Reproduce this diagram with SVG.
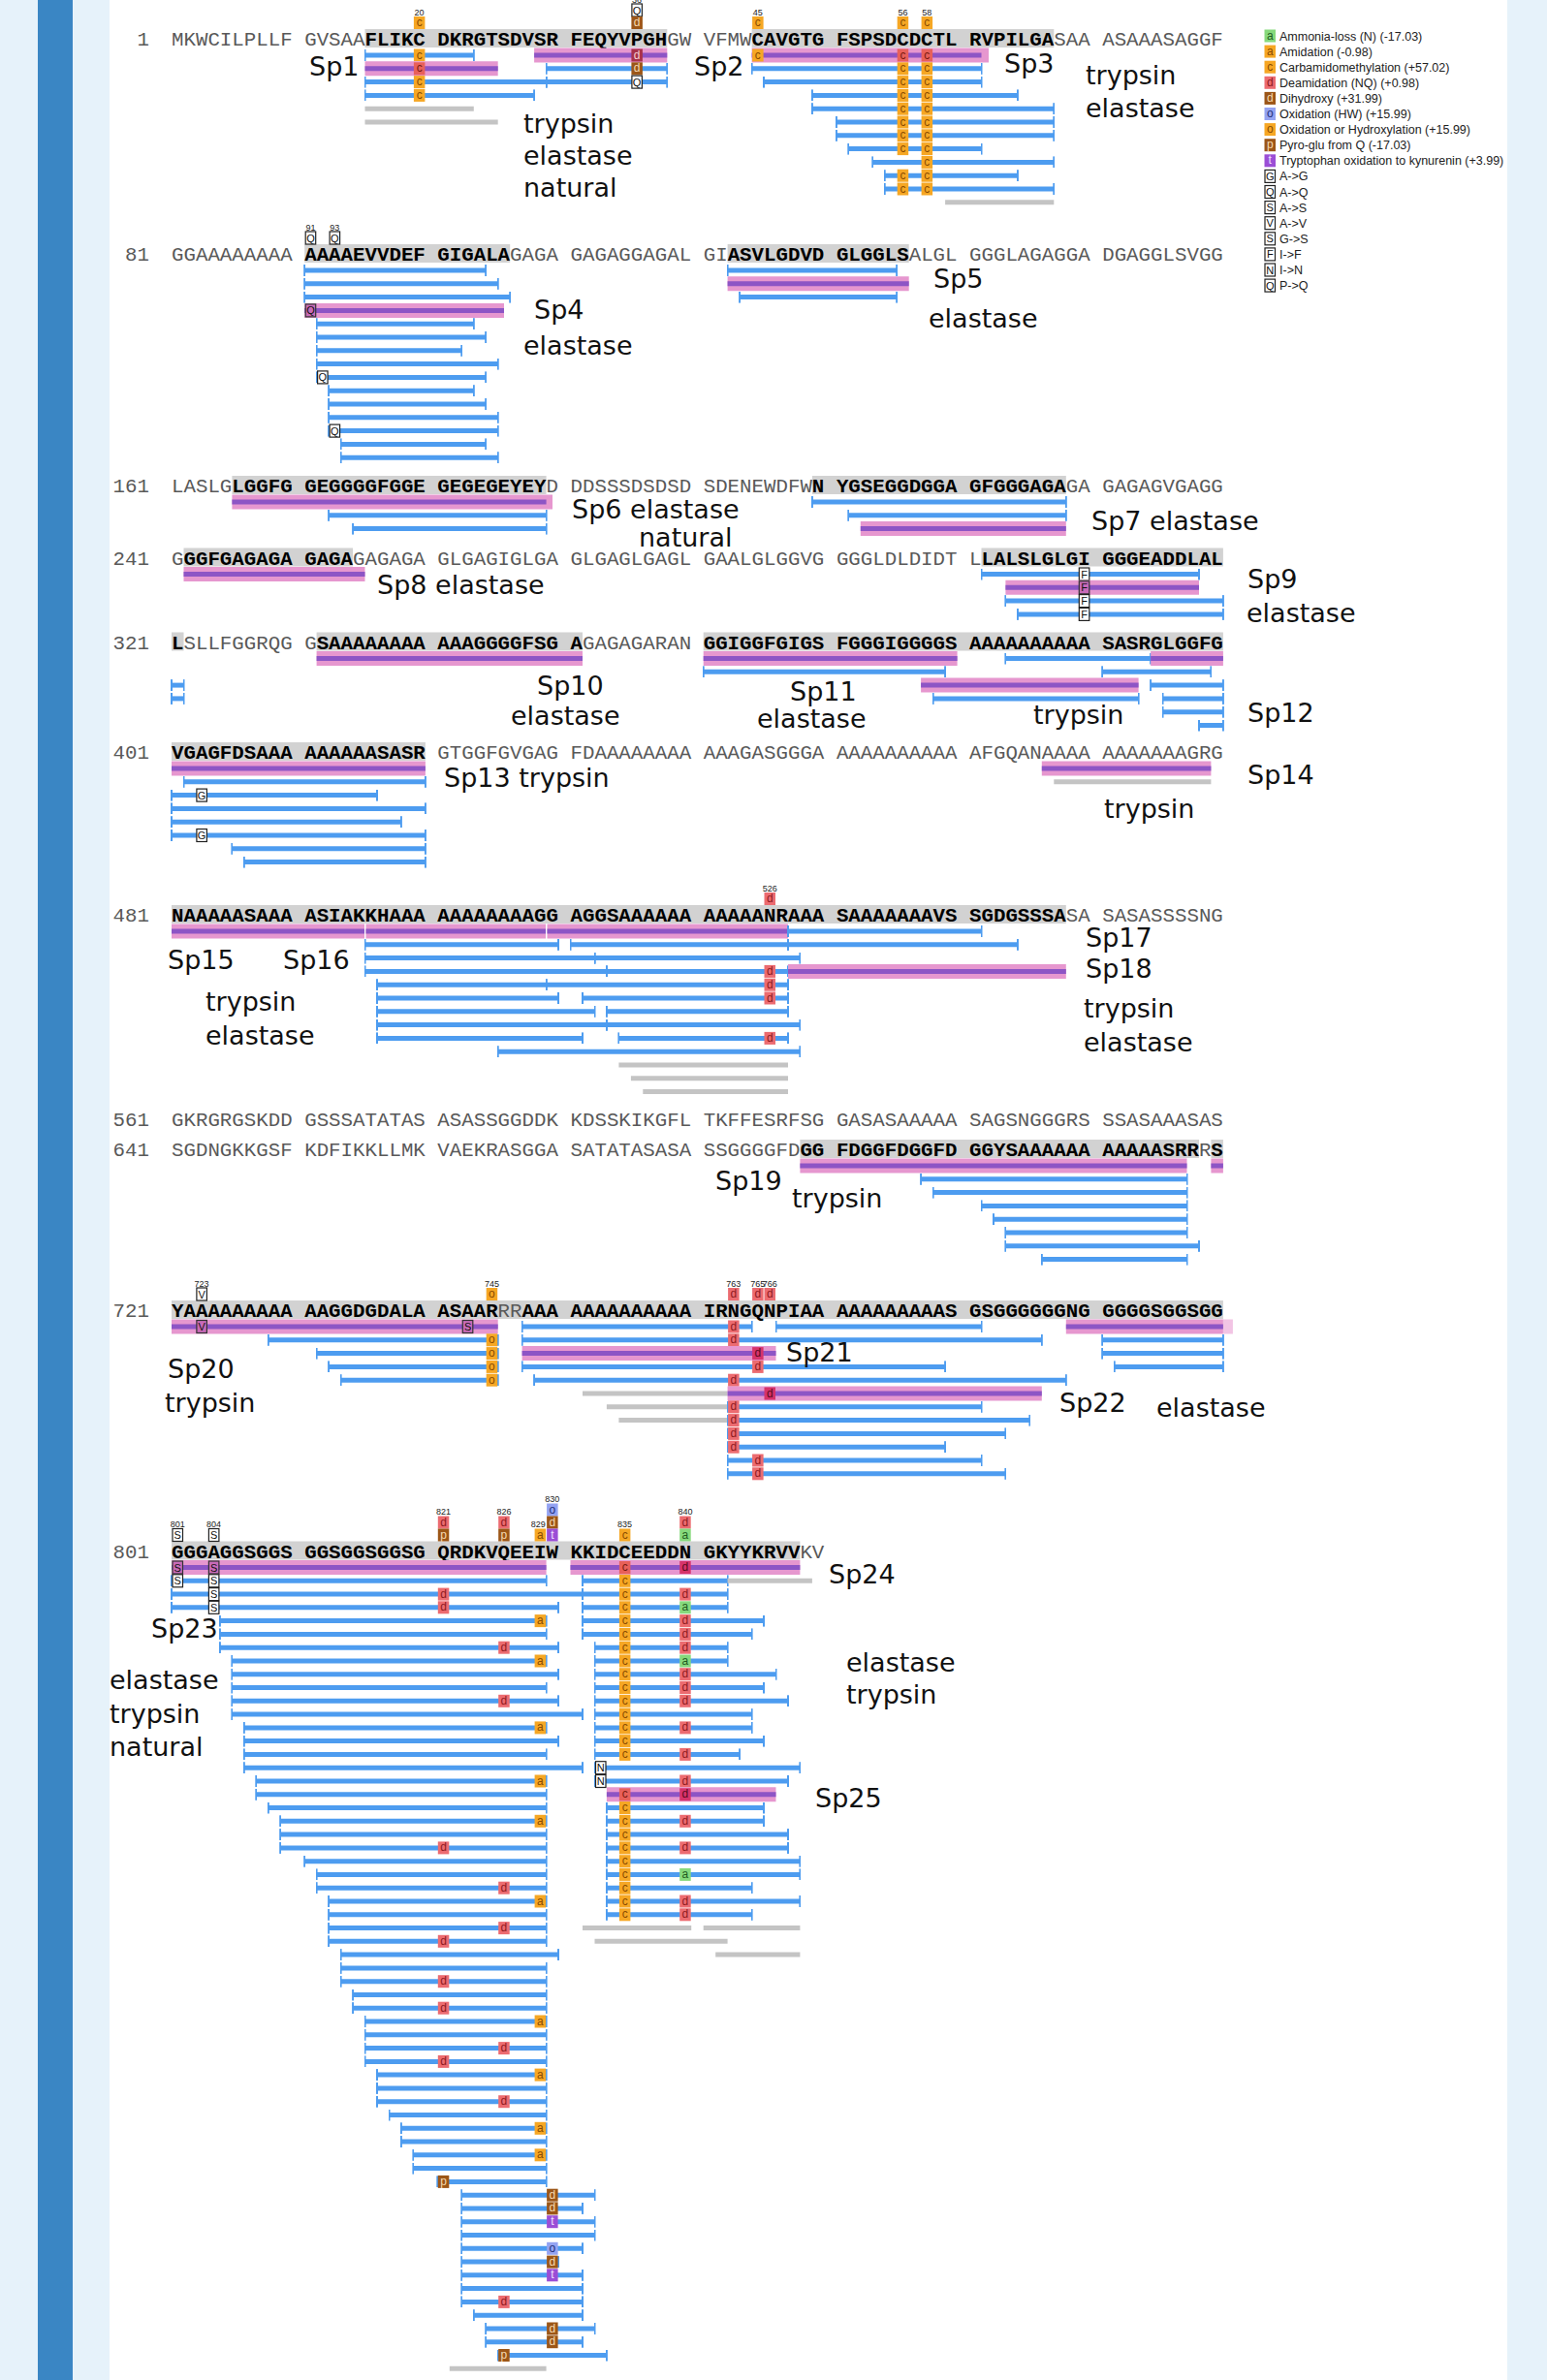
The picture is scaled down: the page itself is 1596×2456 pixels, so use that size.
<svg xmlns="http://www.w3.org/2000/svg" xmlns:xlink="http://www.w3.org/1999/xlink" width="1596" height="2456" viewBox="0 0 1596 2456">
<style>
.sq text{font-family:"Liberation Mono",monospace;font-size:20.78px;fill:#595959}
.sq .b{font-weight:bold;fill:#000}
.num{font-family:"Liberation Mono",monospace;font-size:20.78px;fill:#a8a8a8;text-anchor:end}
.lb{font-family:"DejaVu Sans",sans-serif;font-size:27px;fill:#111}
.lg{font-family:"Liberation Sans",sans-serif;font-size:12.5px;fill:#222}
.pn{font-family:"Liberation Sans",sans-serif;font-size:9px;fill:#222;text-anchor:middle}
.bt{font-family:"Liberation Sans",sans-serif;font-size:12px;text-anchor:middle}
.bs{font-family:"Liberation Sans",sans-serif;font-size:11px;text-anchor:middle;fill:#111}
.bl{stroke:#4d9cf0;stroke-width:5;fill:none;marker-start:url(#tk);marker-end:url(#tk)}
.gr{stroke:#c4c4c4;stroke-width:5;fill:none}
.pk{stroke:#e697cf;stroke-width:15;fill:none}
.pu{stroke:#8d55c5;stroke-width:5;fill:none}
.band{fill:#d2d2d2}
</style>
<defs>
<marker id="tk" markerUnits="userSpaceOnUse" viewBox="0 0 2 12" markerWidth="2" markerHeight="12" refX="1" refY="6" orient="0"><rect width="2" height="12" fill="#4d9cf0"/></marker>
<g id="bc"><rect x="0.5" y="-6.5" width="11.5" height="13" fill="#f6a724"/><text x="6.25" y="3.5" class="bt" fill="#8a4b00">c</text></g>
<g id="ba"><rect x="0.5" y="-6.5" width="11.5" height="13" fill="#f6a724"/><text x="6.25" y="3.5" class="bt" fill="#8a4b00">a</text></g>
<g id="bo"><rect x="0.5" y="-6.5" width="11.5" height="13" fill="#f6a724"/><text x="6.25" y="3.5" class="bt" fill="#8a4b00">o</text></g>
<g id="bd"><rect x="0.5" y="-6.5" width="11.5" height="13" fill="#ec6b70"/><text x="6.25" y="3.5" class="bt" fill="#8e1a1f">d</text></g>
<g id="bD"><rect x="0.5" y="-6.5" width="11.5" height="13" fill="#9c5617"/><text x="6.25" y="3.5" class="bt" fill="#f5d9b0">d</text></g>
<g id="bp"><rect x="0.5" y="-6.5" width="11.5" height="13" fill="#9c5617"/><text x="6.25" y="3.5" class="bt" fill="#f5d9b0">p</text></g>
<g id="bO"><rect x="0.5" y="-6.5" width="11.5" height="13" fill="#94a3f2"/><text x="6.25" y="3.5" class="bt" fill="#22307a">o</text></g>
<g id="bt"><rect x="0.5" y="-6.5" width="11.5" height="13" fill="#9b4ed6"/><text x="6.25" y="3.5" class="bt" fill="#f0e0ff">t</text></g>
<g id="bA"><rect x="0.5" y="-6.5" width="11.5" height="13" fill="#86d97c"/><text x="6.25" y="3.5" class="bt" fill="#1f5c1f">a</text></g>
<g id="pc"><rect x="0.5" y="-6.5" width="11.5" height="13" fill="#e8605a"/><text x="6.25" y="3.5" class="bt" fill="#7a1a10">c</text></g>
<g id="pd"><rect x="0.5" y="-6.5" width="11.5" height="13" fill="#d6336b"/><text x="6.25" y="3.5" class="bt" fill="#5a0a20">d</text></g>
<g id="pD"><rect x="0.5" y="-6.5" width="11.5" height="13" fill="#a8324a"/><text x="6.25" y="3.5" class="bt" fill="#f5d0d0">d</text></g>
<g id="sG"><rect x="1" y="-6.5" width="10.5" height="13" fill="#fff" stroke="#222" stroke-width="1.2"/><text x="6.25" y="4" class="bs">G</text></g>
<g id="sQ"><rect x="1" y="-6.5" width="10.5" height="13" fill="#fff" stroke="#222" stroke-width="1.2"/><text x="6.25" y="4" class="bs">Q</text></g>
<g id="sS"><rect x="1" y="-6.5" width="10.5" height="13" fill="#fff" stroke="#222" stroke-width="1.2"/><text x="6.25" y="4" class="bs">S</text></g>
<g id="sV"><rect x="1" y="-6.5" width="10.5" height="13" fill="#fff" stroke="#222" stroke-width="1.2"/><text x="6.25" y="4" class="bs">V</text></g>
<g id="sF"><rect x="1" y="-6.5" width="10.5" height="13" fill="#fff" stroke="#222" stroke-width="1.2"/><text x="6.25" y="4" class="bs">F</text></g>
<g id="sN"><rect x="1" y="-6.5" width="10.5" height="13" fill="#fff" stroke="#222" stroke-width="1.2"/><text x="6.25" y="4" class="bs">N</text></g>
<g id="pS"><rect x="1" y="-6.5" width="10.5" height="13" fill="#c86ab8" stroke="#333" stroke-width="1.2"/><text x="6.25" y="4" class="bs">S</text></g>
<g id="pV"><rect x="1" y="-6.5" width="10.5" height="13" fill="#c86ab8" stroke="#333" stroke-width="1.2"/><text x="6.25" y="4" class="bs">V</text></g>
<g id="pQ"><rect x="1" y="-6.5" width="10.5" height="13" fill="#c86ab8" stroke="#333" stroke-width="1.2"/><text x="6.25" y="4" class="bs">Q</text></g>
<g id="pF"><rect x="1" y="-6.5" width="10.5" height="13" fill="#c86ab8" stroke="#333" stroke-width="1.2"/><text x="6.25" y="4" class="bs">F</text></g>
</defs>

<rect width="1596" height="2456" fill="#e6f2fa"/>
<rect x="39" y="0" width="36" height="2456" fill="#3a86c4"/>
<rect x="113" y="0" width="1442" height="2456" fill="#fff"/>

<g id="bands">
<rect class="band" x="376.5" y="30" width="311.8" height="19"/><rect class="band" x="775.6" y="30" width="311.7" height="19"/>
<rect class="band" x="314.2" y="252" width="212" height="19"/><rect class="band" x="750.6" y="252" width="187.1" height="19"/>
<rect class="band" x="239.4" y="491" width="324.2" height="19"/><rect class="band" x="837.9" y="491" width="261.9" height="19"/>
<rect class="band" x="189.5" y="565.5" width="174.6" height="19"/><rect class="band" x="1012.5" y="565.5" width="249.4" height="19"/>
<rect class="band" x="177" y="652.5" width="12.5" height="19"/><rect class="band" x="326.6" y="652.5" width="274.4" height="19"/><rect class="band" x="725.7" y="652.5" width="536.2" height="19"/>
<rect class="band" x="177" y="766" width="261.9" height="19"/>
<rect class="band" x="177" y="934" width="922.8" height="19"/>
<rect class="band" x="825.4" y="1176" width="411.6" height="19"/><rect class="band" x="1249.4" y="1176" width="12.5" height="19"/>
<rect class="band" x="177" y="1342" width="1084.9" height="19"/>
<rect class="band" x="177" y="1590.5" width="648.4" height="19"/>
</g>

<g id="sequence" class="sq">
<text class="num" x="154" y="47">1</text>
<text x="177" y="47">MKWCILPLLF</text><text x="314.2" y="47">GVSAA<tspan class="b">FLIKC</tspan></text><text x="451.3" y="47" class="b">DKRGTSDVSR</text><text x="588.5" y="47"><tspan class="b">FEQYVPGH</tspan>GW</text><text x="725.7" y="47">VFMW<tspan class="b">CAVGTG</tspan></text><text x="862.9" y="47" class="b">FSPSDCDCTL</text><text x="1000" y="47"><tspan class="b">RVPILGA</tspan>SAA</text><text x="1137.2" y="47">ASAAASAGGF</text>
<text class="num" x="154" y="269">81</text>
<text x="177" y="269">GGAAAAAAAA</text><text x="314.2" y="269" class="b">AAAAEVVDEF</text><text x="451.3" y="269"><tspan class="b">GIGALA</tspan>GAGA</text><text x="588.5" y="269">GAGAGGAGAL</text><text x="725.7" y="269">GI<tspan class="b">ASVLGDVD</tspan></text><text x="862.9" y="269"><tspan class="b">GLGGLS</tspan>ALGL</text><text x="1000" y="269">GGGLAGAGGA</text><text x="1137.2" y="269">DGAGGLSVGG</text>
<text class="num" x="154" y="508">161</text>
<text x="177" y="508">LASLG<tspan class="b">LGGFG</tspan></text><text x="314.2" y="508" class="b">GEGGGGFGGE</text><text x="451.3" y="508"><tspan class="b">GEGEGEYEY</tspan>D</text><text x="588.5" y="508">DDSSSDSDSD</text><text x="725.7" y="508">SDENEWDFW<tspan class="b">N</tspan></text><text x="862.9" y="508" class="b">YGSEGGDGGA</text><text x="1000" y="508"><tspan class="b">GFGGGAGA</tspan>GA</text><text x="1137.2" y="508">GAGAGVGAGG</text>
<text class="num" x="154" y="582.5">241</text>
<text x="177" y="582.5">G<tspan class="b">GGFGAGAGA</tspan></text><text x="314.2" y="582.5"><tspan class="b">GAGA</tspan>GAGAGA</text><text x="451.3" y="582.5">GLGAGIGLGA</text><text x="588.5" y="582.5">GLGAGLGAGL</text><text x="725.7" y="582.5">GAALGLGGVG</text><text x="862.9" y="582.5">GGGLDLDIDT</text><text x="1000" y="582.5">L<tspan class="b">LALSLGLGI</tspan></text><text x="1137.2" y="582.5" class="b">GGGEADDLAL</text>
<text class="num" x="154" y="669.5">321</text>
<text x="177" y="669.5"><tspan class="b">L</tspan>SLLFGGRQG</text><text x="314.2" y="669.5">G<tspan class="b">SAAAAAAAA</tspan></text><text x="451.3" y="669.5" class="b">AAAGGGGFSG</text><text x="588.5" y="669.5"><tspan class="b">A</tspan>GAGAGARAN</text><text x="725.7" y="669.5" class="b">GGIGGFGIGS</text><text x="862.9" y="669.5" class="b">FGGGIGGGGS</text><text x="1000" y="669.5" class="b">AAAAAAAAAA</text><text x="1137.2" y="669.5" class="b">SASRGLGGFG</text>
<text class="num" x="154" y="783">401</text>
<text x="177" y="783" class="b">VGAGFDSAAA</text><text x="314.2" y="783" class="b">AAAAAASASR</text><text x="451.3" y="783">GTGGFGVGAG</text><text x="588.5" y="783">FDAAAAAAAA</text><text x="725.7" y="783">AAAGASGGGA</text><text x="862.9" y="783">AAAAAAAAAA</text><text x="1000" y="783">AFGQANAAAA</text><text x="1137.2" y="783">AAAAAAAGRG</text>
<text class="num" x="154" y="951">481</text>
<text x="177" y="951" class="b">NAAAAASAAA</text><text x="314.2" y="951" class="b">ASIAKKHAAA</text><text x="451.3" y="951" class="b">AAAAAAAAGG</text><text x="588.5" y="951" class="b">AGGSAAAAAA</text><text x="725.7" y="951" class="b">AAAAANRAAA</text><text x="862.9" y="951" class="b">SAAAAAAAVS</text><text x="1000" y="951"><tspan class="b">SGDGSSSA</tspan>SA</text><text x="1137.2" y="951">SASASSSSNG</text>
<text class="num" x="154" y="1161.5">561</text>
<text x="177" y="1161.5">GKRGRGSKDD</text><text x="314.2" y="1161.5">GSSSATATAS</text><text x="451.3" y="1161.5">ASASSGGDDK</text><text x="588.5" y="1161.5">KDSSKIKGFL</text><text x="725.7" y="1161.5">TKFFESRFSG</text><text x="862.9" y="1161.5">GASASAAAAA</text><text x="1000" y="1161.5">SAGSNGGGRS</text><text x="1137.2" y="1161.5">SSASAAASAS</text>
<text class="num" x="154" y="1193">641</text>
<text x="177" y="1193">SGDNGKKGSF</text><text x="314.2" y="1193">KDFIKKLLMK</text><text x="451.3" y="1193">VAEKRASGGA</text><text x="588.5" y="1193">SATATASASA</text><text x="725.7" y="1193">SSGGGGFD<tspan class="b">GG</tspan></text><text x="862.9" y="1193" class="b">FDGGFDGGFD</text><text x="1000" y="1193" class="b">GGYSAAAAAA</text><text x="1137.2" y="1193"><tspan class="b">AAAAASRR</tspan>R<tspan class="b">S</tspan></text>
<text class="num" x="154" y="1359">721</text>
<text x="177" y="1359" class="b">YAAAAAAAAA</text><text x="314.2" y="1359" class="b">AAGGDGDALA</text><text x="451.3" y="1359"><tspan class="b">ASAAR</tspan>RR<tspan class="b">AAA</tspan></text><text x="588.5" y="1359" class="b">AAAAAAAAAA</text><text x="725.7" y="1359" class="b">IRNGQNPIAA</text><text x="862.9" y="1359" class="b">AAAAAAAAAS</text><text x="1000" y="1359" class="b">GSGGGGGGNG</text><text x="1137.2" y="1359" class="b">GGGGSGGSGG</text>
<text class="num" x="154" y="1607.5">801</text>
<text x="177" y="1607.5" class="b">GGGAGGSGGS</text><text x="314.2" y="1607.5" class="b">GGSGGSGGSG</text><text x="451.3" y="1607.5" class="b">QRDKVQEEIW</text><text x="588.5" y="1607.5" class="b">KKIDCEEDDN</text><text x="725.7" y="1607.5"><tspan class="b">GKYYKRVV</tspan>KV</text>
</g>

<g id="site-marks">
<text class="pn" x="432.6" y="15.5">20</text><use href="#bc" x="426.4" y="23.5"/>
<text class="pn" x="657.1" y="3">36</text><use href="#sQ" x="650.9" y="10.5"/><use href="#bD" x="650.9" y="23.5"/>
<text class="pn" x="781.8" y="15.5">45</text><use href="#bc" x="775.6" y="23.5"/>
<text class="pn" x="931.4" y="15.5">56</text><use href="#bc" x="925.2" y="23.5"/>
<text class="pn" x="956.3" y="15.5">58</text><use href="#bc" x="950.1" y="23.5"/>
<text class="pn" x="320.4" y="237.5">91</text><use href="#sQ" x="314.2" y="245.5"/>
<text class="pn" x="345.3" y="237.5">93</text><use href="#sQ" x="339.1" y="245.5"/>
<text class="pn" x="794.2" y="919.5">526</text><use href="#bd" x="788" y="927.5"/>
<text class="pn" x="208.1" y="1327.5">723</text><use href="#sV" x="201.9" y="1335.5"/>
<text class="pn" x="507.4" y="1327.5">745</text><use href="#bo" x="501.2" y="1335.5"/>
<text class="pn" x="756.8" y="1327.5">763</text><use href="#bd" x="750.6" y="1335.5"/>
<text class="pn" x="781.8" y="1327.5">765</text><use href="#bd" x="775.6" y="1335.5"/>
<text class="pn" x="794.2" y="1327.5">766</text><use href="#bd" x="788" y="1335.5"/>
<text class="pn" x="183.2" y="1576">801</text><use href="#sS" x="177" y="1584"/>
<text class="pn" x="220.6" y="1576">804</text><use href="#sS" x="214.4" y="1584"/>
<text class="pn" x="457.5" y="1563">821</text><use href="#bd" x="451.3" y="1571"/><use href="#bp" x="451.3" y="1584"/>
<text class="pn" x="519.9" y="1563">826</text><use href="#bd" x="513.7" y="1571"/><use href="#bp" x="513.7" y="1584"/>
<text class="pn" x="555.3" y="1576">829</text><use href="#ba" x="551.1" y="1584"/>
<text class="pn" x="569.8" y="1550">830</text><use href="#bO" x="563.6" y="1558"/><use href="#bD" x="563.6" y="1571"/><use href="#bt" x="563.6" y="1584"/>
<text class="pn" x="644.6" y="1576">835</text><use href="#bc" x="638.4" y="1584"/>
<text class="pn" x="706.9" y="1563">840</text><use href="#bd" x="700.7" y="1571"/><use href="#bA" x="700.7" y="1584"/>
</g>

<g id="peptides">
<path class="bl" d="M376.5 57H488.8"/><use href="#bc" x="426.4" y="57"/>
<path class="pk" d="M551.1 57H688.3"/><path class="pu" d="M551.1 57H688.3"/><use href="#pD" x="650.9" y="57"/>
<path class="pk" d="M775.6 57H1020"/><path class="pu" d="M775.6 57H1012.5"/><use href="#bc" x="775.6" y="57"/><use href="#pc" x="925.2" y="57"/><use href="#pc" x="950.1" y="57"/>
<path class="pk" d="M376.5 70.8H513.7"/><path class="pu" d="M376.5 70.8H513.7"/><use href="#pc" x="426.4" y="70.8"/>
<path class="bl" d="M563.6 70.8H688.3"/><use href="#bD" x="650.9" y="70.8"/>
<path class="bl" d="M775.6 70.8H1012.5"/><use href="#bc" x="925.2" y="70.8"/><use href="#bc" x="950.1" y="70.8"/>
<path class="bl" d="M376.5 84.6H563.6"/><path class="bl" d="M563.6 84.6H688.3"/><use href="#bc" x="426.4" y="84.6"/><use href="#sQ" x="650.9" y="84.6"/>
<path class="bl" d="M788 84.6H1012.5"/><use href="#bc" x="925.2" y="84.6"/><use href="#bc" x="950.1" y="84.6"/>
<path class="bl" d="M376.5 98.4H551.1"/><use href="#bc" x="426.4" y="98.4"/>
<path class="bl" d="M837.9 98.4H1049.9"/><use href="#bc" x="925.2" y="98.4"/><use href="#bc" x="950.1" y="98.4"/>
<path class="gr" d="M376.5 112.2H488.8"/>
<path class="bl" d="M837.9 112.2H1087.3"/><use href="#bc" x="925.2" y="112.2"/><use href="#bc" x="950.1" y="112.2"/>
<path class="gr" d="M376.5 126H513.7"/>
<path class="bl" d="M862.9 126H1087.3"/><use href="#bc" x="925.2" y="126"/><use href="#bc" x="950.1" y="126"/>
<path class="bl" d="M862.9 139.8H1087.3"/><use href="#bc" x="925.2" y="139.8"/><use href="#bc" x="950.1" y="139.8"/>
<path class="bl" d="M875.3 153.6H1012.5"/><use href="#bc" x="925.2" y="153.6"/><use href="#bc" x="950.1" y="153.6"/>
<path class="bl" d="M900.3 167.4H1087.3"/><use href="#bc" x="950.1" y="167.4"/>
<path class="bl" d="M912.7 181.2H1049.9"/><use href="#bc" x="925.2" y="181.2"/><use href="#bc" x="950.1" y="181.2"/>
<path class="bl" d="M912.7 195H1087.3"/><use href="#bc" x="925.2" y="195"/><use href="#bc" x="950.1" y="195"/>
<path class="gr" d="M975.1 208.8H1087.3"/>
<path class="bl" d="M314.2 279H501.2"/><path class="bl" d="M750.6 279H925.2"/>
<path class="bl" d="M314.2 292.8H513.7"/><path class="pk" d="M750.6 292.8H937.7"/><path class="pu" d="M750.6 292.8H937.7"/>
<path class="bl" d="M314.2 306.6H526.2"/><path class="bl" d="M763.1 306.6H925.2"/>
<path class="pk" d="M314.2 320.4H520"/><path class="pu" d="M314.2 320.4H520"/><use href="#pQ" x="314.2" y="320.4"/>
<path class="bl" d="M326.6 334.2H488.8"/>
<path class="bl" d="M326.6 348H501.2"/>
<path class="bl" d="M326.6 361.8H476.3"/>
<path class="bl" d="M326.6 375.6H513.7"/>
<path class="bl" d="M326.6 389.4H501.2"/><use href="#sQ" x="326.6" y="389.4"/>
<path class="bl" d="M339.1 403.2H488.8"/>
<path class="bl" d="M339.1 417H501.2"/>
<path class="bl" d="M339.1 430.8H513.7"/>
<path class="bl" d="M339.1 444.6H513.7"/><use href="#sQ" x="339.1" y="444.6"/>
<path class="bl" d="M351.6 458.4H501.2"/>
<path class="bl" d="M351.6 472.2H513.7"/>
<path class="pk" d="M239.4 518H570"/><path class="pu" d="M239.4 518H563.6"/><path class="bl" d="M837.9 518H1099.8"/>
<path class="bl" d="M339.1 531.8H563.6"/><path class="bl" d="M875.3 531.8H1099.8"/>
<path class="bl" d="M364.1 545.6H563.6"/><path class="pk" d="M887.8 545.6H1099.8"/><path class="pu" d="M887.8 545.6H1099.8"/>
<path class="pk" d="M189.5 592.5H376.5"/><path class="pu" d="M189.5 592.5H376.5"/>
<path class="bl" d="M1012.5 592.5H1237"/><use href="#sF" x="1112.3" y="592.5"/>
<path class="pk" d="M1037.4 606.3H1237"/><path class="pu" d="M1037.4 606.3H1237"/><use href="#pF" x="1112.3" y="606.3"/>
<path class="bl" d="M1037.4 620.1H1261.9"/><use href="#sF" x="1112.3" y="620.1"/>
<path class="bl" d="M1049.9 633.9H1261.9"/><use href="#sF" x="1112.3" y="633.9"/>
<path class="pk" d="M326.6 679.5H601"/><path class="pu" d="M326.6 679.5H601"/>
<path class="pk" d="M725.7 679.5H987.6"/><path class="pu" d="M725.7 679.5H987.6"/>
<path class="bl" d="M1037.4 679.5H1187.1"/><path class="pk" d="M1187.1 679.5H1261.9"/><path class="pu" d="M1187.1 679.5H1261.9"/>
<path class="bl" d="M725.7 693.3H975.1"/><path class="bl" d="M1137.2 693.3H1249.4"/>
<path class="bl" d="M177 707.1H189.5"/><path class="pk" d="M950.1 707.1H1174.6"/><path class="pu" d="M950.1 707.1H1174.6"/><path class="bl" d="M1187.1 707.1H1261.9"/>
<path class="bl" d="M177 720.9H189.5"/><path class="bl" d="M962.6 720.9H1174.6"/><path class="bl" d="M1199.5 720.9H1261.9"/>
<path class="bl" d="M1199.5 734.7H1261.9"/>
<path class="bl" d="M1237 748.5H1261.9"/>
<path class="pk" d="M177 793H438.9"/><path class="pu" d="M177 793H438.9"/>
<path class="pk" d="M1074.8 793H1249.4"/><path class="pu" d="M1074.8 793H1249.4"/>
<path class="bl" d="M189.5 806.8H438.9"/><path class="gr" d="M1087.3 806.8H1249.4"/>
<path class="bl" d="M177 820.6H389"/><use href="#sG" x="201.9" y="820.6"/>
<path class="bl" d="M177 834.4H438.9"/>
<path class="bl" d="M177 848.2H413.9"/>
<path class="bl" d="M177 862H438.9"/><use href="#sG" x="201.9" y="862"/>
<path class="bl" d="M239.4 875.8H438.9"/>
<path class="bl" d="M251.8 889.6H438.9"/>
<path class="pk" d="M177 961H376"/><path class="pu" d="M177 961H376"/>
<path class="pk" d="M377.5 961H563"/><path class="pu" d="M377.5 961H563"/>
<path class="pk" d="M564.5 961H813"/><path class="pu" d="M564.5 961H813"/>
<path class="bl" d="M813 961H1012.5"/>
<path class="bl" d="M376.5 974.8H576"/><path class="bl" d="M588.5 974.8H813"/><path class="bl" d="M813 974.8H1049.9"/>
<path class="bl" d="M376.5 988.6H613.5"/><path class="bl" d="M613.5 988.6H825.4"/>
<path class="bl" d="M376.5 1002.4H625.9"/><path class="bl" d="M625.9 1002.4H813"/><use href="#bd" x="788" y="1002.4"/>
<path class="pk" d="M813 1002.4H1099.8"/><path class="pu" d="M813 1002.4H1099.8"/>
<path class="bl" d="M389 1016.2H563.6"/><path class="bl" d="M563.6 1016.2H813"/><use href="#bd" x="788" y="1016.2"/>
<path class="bl" d="M389 1030H576"/><path class="bl" d="M601 1030H813"/><use href="#bd" x="788" y="1030"/>
<path class="bl" d="M389 1043.8H613.5"/><path class="bl" d="M625.9 1043.8H813"/>
<path class="bl" d="M389 1057.6H625.9"/><path class="bl" d="M625.9 1057.6H825.4"/>
<path class="bl" d="M389 1071.4H601"/><path class="bl" d="M638.4 1071.4H813"/><use href="#bd" x="788" y="1071.4"/>
<path class="bl" d="M513.7 1085.2H825.4"/>
<path class="gr" d="M638.4 1099H813"/>
<path class="gr" d="M650.9 1112.8H813"/>
<path class="gr" d="M663.3 1126.6H813"/>
<path class="pk" d="M825.4 1203H1224.5"/><path class="pu" d="M825.4 1203H1224.5"/>
<path class="pk" d="M1249.4 1203H1261.9"/><path class="pu" d="M1249.4 1203H1261.9"/>
<path class="bl" d="M950.1 1216.8H1224.5"/>
<path class="bl" d="M962.6 1230.6H1224.5"/>
<path class="bl" d="M1012.5 1244.4H1224.5"/>
<path class="bl" d="M1025 1258.2H1224.5"/>
<path class="bl" d="M1037.4 1272H1224.5"/>
<path class="bl" d="M1037.4 1285.8H1237"/>
<path class="bl" d="M1074.8 1299.6H1224.5"/>
<path class="pk" d="M177 1369H513.7"/><path class="pu" d="M177 1369H513.7"/><use href="#pV" x="201.9" y="1369"/><use href="#pS" x="476.3" y="1369"/>
<path class="bl" d="M538.6 1369H775.6"/><use href="#bd" x="750.6" y="1369"/>
<path class="bl" d="M800.5 1369H1012.5"/>
<rect x="1261.9" y="1361.5" width="10" height="15" fill="#f2c4e4"/>
<path class="pk" d="M1099.8 1369H1261.9"/><path class="pu" d="M1099.8 1369H1261.9"/>
<path class="bl" d="M276.8 1382.8H513.7"/><use href="#bo" x="501.2" y="1382.8"/>
<path class="bl" d="M538.6 1382.8H1074.8"/><use href="#bd" x="750.6" y="1382.8"/>
<path class="bl" d="M1137.2 1382.8H1261.9"/>
<path class="bl" d="M326.6 1396.6H513.7"/><use href="#bo" x="501.2" y="1396.6"/>
<path class="pk" d="M538.6 1396.6H800.5"/><path class="pu" d="M538.6 1396.6H800.5"/><use href="#pd" x="775.6" y="1396.6"/>
<path class="bl" d="M1137.2 1396.6H1261.9"/>
<path class="bl" d="M339.1 1410.4H513.7"/><use href="#bo" x="501.2" y="1410.4"/>
<path class="bl" d="M538.6 1410.4H975.1"/><use href="#bd" x="775.6" y="1410.4"/>
<path class="bl" d="M1149.7 1410.4H1261.9"/>
<path class="bl" d="M351.6 1424.2H513.7"/><use href="#bo" x="501.2" y="1424.2"/>
<path class="bl" d="M551.1 1424.2H1099.8"/><use href="#bd" x="750.6" y="1424.2"/>
<path class="gr" d="M601 1438H750.6"/><path class="pk" d="M750.6 1438H1074.8"/><path class="pu" d="M750.6 1438H1074.8"/><use href="#pd" x="788" y="1438"/>
<path class="gr" d="M625.9 1451.8H750.6"/><path class="bl" d="M750.6 1451.8H1012.5"/><use href="#bd" x="750.6" y="1451.8"/>
<path class="gr" d="M638.4 1465.6H750.6"/><path class="bl" d="M750.6 1465.6H1062.4"/><use href="#bd" x="750.6" y="1465.6"/>
<path class="bl" d="M750.6 1479.4H1037.4"/><use href="#bd" x="750.6" y="1479.4"/>
<path class="bl" d="M750.6 1493.2H975.1"/><use href="#bd" x="750.6" y="1493.2"/>
<path class="bl" d="M750.6 1507H1012.5"/><use href="#bd" x="775.6" y="1507"/>
<path class="bl" d="M750.6 1520.8H1037.4"/><use href="#bd" x="775.6" y="1520.8"/>
<path class="pk" d="M177 1617.5H563.6"/><path class="pu" d="M177 1617.5H563.6"/><use href="#pS" x="177" y="1617.5"/><use href="#pS" x="214.4" y="1617.5"/>
<path class="pk" d="M588.5 1617.5H825.4"/><path class="pu" d="M588.5 1617.5H825.4"/><use href="#pc" x="638.4" y="1617.5"/><use href="#pd" x="700.7" y="1617.5"/>
<path class="bl" d="M177 1631.3H563.6"/><use href="#sS" x="177" y="1631.3"/><use href="#sS" x="214.4" y="1631.3"/>
<path class="bl" d="M601 1631.3H750.6"/><use href="#bc" x="638.4" y="1631.3"/><path class="gr" d="M750.6 1631.3H837.9"/>
<path class="bl" d="M177 1645.1H601"/><use href="#sS" x="214.4" y="1645.1"/><use href="#bd" x="451.3" y="1645.1"/>
<path class="bl" d="M601 1645.1H750.6"/><use href="#bc" x="638.4" y="1645.1"/><use href="#bd" x="700.7" y="1645.1"/>
<path class="bl" d="M177 1658.8H576"/><use href="#sS" x="214.4" y="1658.8"/><use href="#bd" x="451.3" y="1658.8"/>
<path class="bl" d="M601 1658.8H750.6"/><use href="#bc" x="638.4" y="1658.8"/><use href="#bA" x="700.7" y="1658.8"/>
<path class="bl" d="M226.9 1672.6H563.6"/><use href="#ba" x="551.1" y="1672.6"/>
<path class="bl" d="M601 1672.6H788"/><use href="#bc" x="638.4" y="1672.6"/><use href="#bd" x="700.7" y="1672.6"/>
<path class="bl" d="M226.9 1686.4H563.6"/>
<path class="bl" d="M601 1686.4H775.6"/><use href="#bc" x="638.4" y="1686.4"/><use href="#bd" x="700.7" y="1686.4"/>
<path class="bl" d="M226.9 1700.2H576"/><use href="#bd" x="513.7" y="1700.2"/>
<path class="bl" d="M613.5 1700.2H750.6"/><use href="#bc" x="638.4" y="1700.2"/><use href="#bd" x="700.7" y="1700.2"/>
<path class="bl" d="M239.4 1714H563.6"/><use href="#ba" x="551.1" y="1714"/>
<path class="bl" d="M613.5 1714H750.6"/><use href="#bc" x="638.4" y="1714"/><use href="#bA" x="700.7" y="1714"/>
<path class="bl" d="M239.4 1727.7H576"/>
<path class="bl" d="M613.5 1727.7H800.5"/><use href="#bc" x="638.4" y="1727.7"/><use href="#bd" x="700.7" y="1727.7"/>
<path class="bl" d="M239.4 1741.5H563.6"/>
<path class="bl" d="M613.5 1741.5H788"/><use href="#bc" x="638.4" y="1741.5"/><use href="#bd" x="700.7" y="1741.5"/>
<path class="bl" d="M239.4 1755.3H576"/><use href="#bd" x="513.7" y="1755.3"/>
<path class="bl" d="M613.5 1755.3H813"/><use href="#bc" x="638.4" y="1755.3"/><use href="#bd" x="700.7" y="1755.3"/>
<path class="bl" d="M239.4 1769.1H601"/>
<path class="bl" d="M613.5 1769.1H775.6"/><use href="#bc" x="638.4" y="1769.1"/>
<path class="bl" d="M251.8 1782.9H563.6"/><use href="#ba" x="551.1" y="1782.9"/>
<path class="bl" d="M613.5 1782.9H775.6"/><use href="#bc" x="638.4" y="1782.9"/><use href="#bd" x="700.7" y="1782.9"/>
<path class="bl" d="M251.8 1796.6H576"/>
<path class="bl" d="M613.5 1796.6H788"/><use href="#bc" x="638.4" y="1796.6"/>
<path class="bl" d="M251.8 1810.4H563.6"/>
<path class="bl" d="M613.5 1810.4H763.1"/><use href="#bc" x="638.4" y="1810.4"/><use href="#bd" x="700.7" y="1810.4"/>
<path class="bl" d="M251.8 1824.2H601"/>
<path class="bl" d="M613.5 1824.2H825.4"/><use href="#sN" x="613.5" y="1824.2"/>
<path class="bl" d="M264.3 1838H563.6"/><use href="#ba" x="551.1" y="1838"/>
<path class="bl" d="M613.5 1838H813"/><use href="#sN" x="613.5" y="1838"/><use href="#bd" x="700.7" y="1838"/>
<path class="bl" d="M264.3 1851.8H563.6"/>
<path class="pk" d="M625.9 1851.8H800.5"/><path class="pu" d="M625.9 1851.8H800.5"/><use href="#pc" x="638.4" y="1851.8"/><use href="#pd" x="700.7" y="1851.8"/>
<path class="bl" d="M276.8 1865.5H563.6"/>
<path class="bl" d="M625.9 1865.5H788"/><use href="#bc" x="638.4" y="1865.5"/>
<path class="bl" d="M289.2 1879.3H563.6"/><use href="#ba" x="551.1" y="1879.3"/>
<path class="bl" d="M625.9 1879.3H788"/><use href="#bc" x="638.4" y="1879.3"/><use href="#bd" x="700.7" y="1879.3"/>
<path class="bl" d="M289.2 1893.1H563.6"/>
<path class="bl" d="M625.9 1893.1H813"/><use href="#bc" x="638.4" y="1893.1"/>
<path class="bl" d="M289.2 1906.9H563.6"/><use href="#bd" x="451.3" y="1906.9"/>
<path class="bl" d="M625.9 1906.9H813"/><use href="#bc" x="638.4" y="1906.9"/><use href="#bd" x="700.7" y="1906.9"/>
<path class="bl" d="M314.2 1920.7H563.6"/>
<path class="bl" d="M625.9 1920.7H825.4"/><use href="#bc" x="638.4" y="1920.7"/>
<path class="bl" d="M326.6 1934.4H563.6"/>
<path class="bl" d="M625.9 1934.4H825.4"/><use href="#bc" x="638.4" y="1934.4"/><use href="#bA" x="700.7" y="1934.4"/>
<path class="bl" d="M326.6 1948.2H563.6"/><use href="#bd" x="513.7" y="1948.2"/>
<path class="bl" d="M625.9 1948.2H775.6"/><use href="#bc" x="638.4" y="1948.2"/>
<path class="bl" d="M339.1 1962H563.6"/><use href="#ba" x="551.1" y="1962"/>
<path class="bl" d="M625.9 1962H825.4"/><use href="#bc" x="638.4" y="1962"/><use href="#bd" x="700.7" y="1962"/>
<path class="bl" d="M339.1 1975.8H563.6"/>
<path class="bl" d="M625.9 1975.8H775.6"/><use href="#bc" x="638.4" y="1975.8"/><use href="#bd" x="700.7" y="1975.8"/>
<path class="bl" d="M339.1 1989.6H563.6"/><use href="#bd" x="513.7" y="1989.6"/>
<path class="gr" d="M601 1989.6H713.2"/><path class="gr" d="M725.7 1989.6H825.4"/>
<path class="bl" d="M339.1 2003.3H563.6"/><use href="#bd" x="451.3" y="2003.3"/>
<path class="gr" d="M613.5 2003.3H750.6"/>
<path class="bl" d="M351.6 2017.1H576"/><path class="gr" d="M738.2 2017.1H825.4"/>
<path class="bl" d="M351.6 2030.9H563.6"/>
<path class="bl" d="M351.6 2044.7H563.6"/><use href="#bd" x="451.3" y="2044.7"/>
<path class="bl" d="M364.1 2058.5H563.6"/>
<path class="bl" d="M364.1 2072.2H563.6"/><use href="#bd" x="451.3" y="2072.2"/>
<path class="bl" d="M376.5 2086H563.6"/><use href="#ba" x="551.1" y="2086"/>
<path class="bl" d="M376.5 2099.8H563.6"/>
<path class="bl" d="M376.5 2113.6H563.6"/><use href="#bd" x="513.7" y="2113.6"/>
<path class="bl" d="M376.5 2127.4H563.6"/><use href="#bd" x="451.3" y="2127.4"/>
<path class="bl" d="M389 2141.1H563.6"/><use href="#ba" x="551.1" y="2141.1"/>
<path class="bl" d="M389 2154.9H563.6"/>
<path class="bl" d="M389 2168.7H563.6"/><use href="#bd" x="513.7" y="2168.7"/>
<path class="bl" d="M401.5 2182.5H563.6"/>
<path class="bl" d="M413.9 2196.3H563.6"/><use href="#ba" x="551.1" y="2196.3"/>
<path class="bl" d="M413.9 2210H563.6"/>
<path class="bl" d="M426.4 2223.8H563.6"/><use href="#ba" x="551.1" y="2223.8"/>
<path class="bl" d="M426.4 2237.6H563.6"/>
<path class="bl" d="M451.3 2251.4H563.6"/><use href="#bp" x="451.3" y="2251.4"/>
<path class="bl" d="M476.3 2265.2H613.5"/><use href="#bD" x="563.6" y="2265.2"/>
<path class="bl" d="M476.3 2278.9H601"/><use href="#bD" x="563.6" y="2278.9"/>
<path class="bl" d="M476.3 2292.7H613.5"/><use href="#bt" x="563.6" y="2292.7"/>
<path class="bl" d="M476.3 2306.5H613.5"/>
<path class="bl" d="M476.3 2320.3H601"/><use href="#bO" x="563.6" y="2320.3"/>
<path class="bl" d="M476.3 2334.1H576"/><use href="#bD" x="563.6" y="2334.1"/>
<path class="bl" d="M476.3 2347.8H601"/><use href="#bt" x="563.6" y="2347.8"/>
<path class="bl" d="M476.3 2361.6H601"/>
<path class="bl" d="M476.3 2375.4H601"/><use href="#bd" x="513.7" y="2375.4"/>
<path class="bl" d="M488.8 2389.2H601"/>
<path class="bl" d="M501.2 2403H613.5"/><use href="#bD" x="563.6" y="2403"/>
<path class="bl" d="M501.2 2416.7H601"/><use href="#bD" x="563.6" y="2416.7"/>
<path class="bl" d="M513.7 2430.5H625.9"/><use href="#bp" x="513.7" y="2430.5"/>
<path class="gr" d="M463.8 2444.3H563.6"/>
</g>

<g id="labels" class="lb">
<text x="319" y="78">Sp1</text><text x="540" y="137">trypsin</text><text x="540" y="170">elastase</text><text x="540" y="203">natural</text>
<text x="716" y="78">Sp2</text><text x="1036" y="74.5">Sp3</text><text x="1120" y="87">trypsin</text><text x="1120" y="121">elastase</text>
<text x="551" y="329">Sp4</text><text x="540" y="366">elastase</text><text x="963" y="297">Sp5</text><text x="958" y="338">elastase</text>
<text x="590" y="534.5">Sp6 elastase</text><text x="659" y="563.5">natural</text><text x="1126" y="547">Sp7 elastase</text>
<text x="389" y="613">Sp8 elastase</text><text x="1287" y="607">Sp9</text><text x="1286" y="642">elastase</text>
<text x="554" y="717">Sp10</text><text x="527" y="748">elastase</text><text x="815" y="723">Sp11</text><text x="781" y="751">elastase</text><text x="1066" y="747">trypsin</text><text x="1287" y="745">Sp12</text>
<text x="458" y="812">Sp13 trypsin</text><text x="1287" y="809">Sp14</text><text x="1139" y="844">trypsin</text>
<text x="173" y="1000">Sp15</text><text x="292" y="1000">Sp16</text><text x="212" y="1043">trypsin</text><text x="212" y="1078">elastase</text>
<text x="1120" y="977">Sp17</text><text x="1120" y="1009">Sp18</text><text x="1118" y="1050">trypsin</text><text x="1118" y="1085">elastase</text>
<text x="738" y="1228">Sp19</text><text x="817" y="1246">trypsin</text>
<text x="173" y="1422">Sp20</text><text x="170" y="1457">trypsin</text><text x="811" y="1405">Sp21</text><text x="1093" y="1457">Sp22</text><text x="1193" y="1462">elastase</text>
<text x="156" y="1690">Sp23</text><text x="855" y="1634">Sp24</text>
<text x="113" y="1743">elastase</text><text x="113" y="1778">trypsin</text><text x="113" y="1812">natural</text>
<text x="873" y="1725">elastase</text><text x="873" y="1758">trypsin</text><text x="841" y="1865">Sp25</text>
</g>

<g id="legend">
<use href="#bA" x="1304" y="37"/><text class="lg" x="1320" y="41.5">Ammonia-loss (N) (-17.03)</text>
<use href="#ba" x="1304" y="53.1"/><text class="lg" x="1320" y="57.6">Amidation (-0.98)</text>
<use href="#bc" x="1304" y="69.2"/><text class="lg" x="1320" y="73.7">Carbamidomethylation (+57.02)</text>
<use href="#bd" x="1304" y="85.3"/><text class="lg" x="1320" y="89.8">Deamidation (NQ) (+0.98)</text>
<use href="#bD" x="1304" y="101.4"/><text class="lg" x="1320" y="105.9">Dihydroxy (+31.99)</text>
<use href="#bO" x="1304" y="117.5"/><text class="lg" x="1320" y="122">Oxidation (HW) (+15.99)</text>
<use href="#bo" x="1304" y="133.6"/><text class="lg" x="1320" y="138.1">Oxidation or Hydroxylation (+15.99)</text>
<use href="#bp" x="1304" y="149.7"/><text class="lg" x="1320" y="154.2">Pyro-glu from Q (-17.03)</text>
<use href="#bt" x="1304" y="165.8"/><text class="lg" x="1320" y="170.3">Tryptophan oxidation to kynurenin (+3.99)</text>
<use href="#sG" x="1304" y="181.9"/><text class="lg" x="1320" y="186.4">A-&gt;G</text>
<use href="#sQ" x="1304" y="198"/><text class="lg" x="1320" y="202.5">A-&gt;Q</text>
<use href="#sS" x="1304" y="214.1"/><text class="lg" x="1320" y="218.6">A-&gt;S</text>
<use href="#sV" x="1304" y="230.2"/><text class="lg" x="1320" y="234.7">A-&gt;V</text>
<use href="#sS" x="1304" y="246.3"/><text class="lg" x="1320" y="250.8">G-&gt;S</text>
<use href="#sF" x="1304" y="262.4"/><text class="lg" x="1320" y="266.9">I-&gt;F</text>
<use href="#sN" x="1304" y="278.5"/><text class="lg" x="1320" y="283">I-&gt;N</text>
<use href="#sQ" x="1304" y="294.6"/><text class="lg" x="1320" y="299.1">P-&gt;Q</text>
</g>
<rect x="1555" y="0" width="41" height="2456" fill="#e6f2fa"/>
</svg>
